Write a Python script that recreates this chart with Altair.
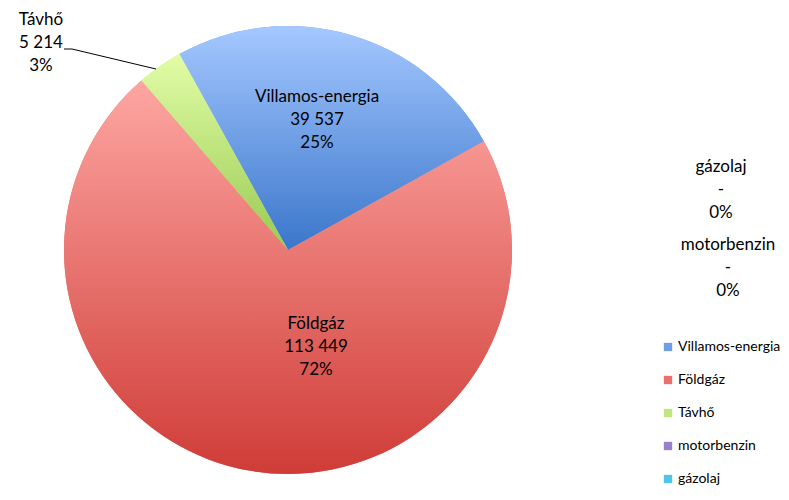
import math
import altair as alt
import pandas as pd

categories = ["Villamos-energia", "Földgáz", "Távhő", "motorbenzin", "gázolaj"]
values = [39537, 113449, 5214, 0, 0]
legend_colors = ["#6f9ee8", "#ec6f6c", "#c2e67f", "#9a7fcc", "#4fc6e3"]
gradients = {
    "Villamos-energia": ("#a5c8ff", "#3a76cb"),
    "Földgáz": ("#fea6a2", "#cf3c37"),
    "Távhő": ("#e2fda7", "#99ca52"),
}

total = sum(values)
cum = 0
rows = []
for c, v in zip(categories, values):
    num = f"{v:,}".replace(",", " ") if v else "-"
    pct = f"{round(v / total * 100)}%"
    rows.append({"cat": c, "value": v, "start": cum, "end": cum + v,
                 "label": f"{c}\n{num}\n{pct}"})
    cum += v
df = pd.DataFrame(rows)

FONT = "Lato"
CX, CY, R = 280, 242, 224
start = math.radians(-29)
theta_scale = alt.Scale(domain=[0, total], range=[start, start + 2 * math.pi], zero=True, nice=False)

base = alt.Chart(df)

legend_layer = base.mark_arc(radius=R).encode(
    theta=alt.Theta("start:Q", scale=theta_scale),
    theta2="end:Q",
    x=alt.value(CX), y=alt.value(CY),
    color=alt.Color("cat:N", sort=categories,
                    scale=alt.Scale(domain=categories, range=legend_colors),
                    legend=alt.Legend(title=None, orient="none", legendX=653, legendY=332,
                                      symbolType="square", symbolSize=70, symbolStrokeWidth=0,
                                      labelFont=FONT, labelFontSize=14, labelColor="#000",
                                      rowPadding=19, padding=0, labelOffset=3)),
)

layers = [legend_layer]
for c in ["Villamos-energia", "Földgáz", "Távhő"]:
    top, bot = gradients[c]
    grad = alt.LinearGradient(gradient="linear",
                              stops=[alt.GradientStop(color=top, offset=0),
                                     alt.GradientStop(color=bot, offset=1)],
                              x1=0, x2=0, y1=0, y2=1)
    layers.append(
        base.transform_filter(alt.datum.cat == c).mark_arc(radius=R, fill=grad).encode(
            theta=alt.Theta("start:Q", scale=theta_scale),
            theta2="end:Q",
            x=alt.value(CX), y=alt.value(CY),
        )
    )

label_pos = {
    "Villamos-energia": (309, 89),
    "Földgáz": (308, 316),
    "Távhő": (33, 12),
    "gázolaj": (713, 159),
    "motorbenzin": (720, 237),
}
for c, (lx, ly) in label_pos.items():
    layers.append(
        base.transform_filter(alt.datum.cat == c).mark_text(
            font=FONT, fontSize=17, lineBreak="\n", lineHeight=23,
            align="center", baseline="middle", color="#000"
        ).encode(text="label:N", x=alt.value(lx), y=alt.value(ly))
    )

leader1 = base.transform_filter(alt.datum.cat == "Távhő").mark_rule(color="#000", strokeWidth=1).encode(
    x=alt.value(56), x2=alt.value(64), y=alt.value(41), y2=alt.value(41))
leader2 = base.transform_filter(alt.datum.cat == "Távhő").mark_rule(color="#000", strokeWidth=1).encode(
    x=alt.value(64), x2=alt.value(148), y=alt.value(41), y2=alt.value(61))
layers += [leader1, leader2]

chart = alt.layer(*layers).properties(
    width=773, height=484, autosize="none", padding=0
).configure_view(stroke=None)

chart.save("out.html", embed_options={"renderer": "svg", "actions": False})
